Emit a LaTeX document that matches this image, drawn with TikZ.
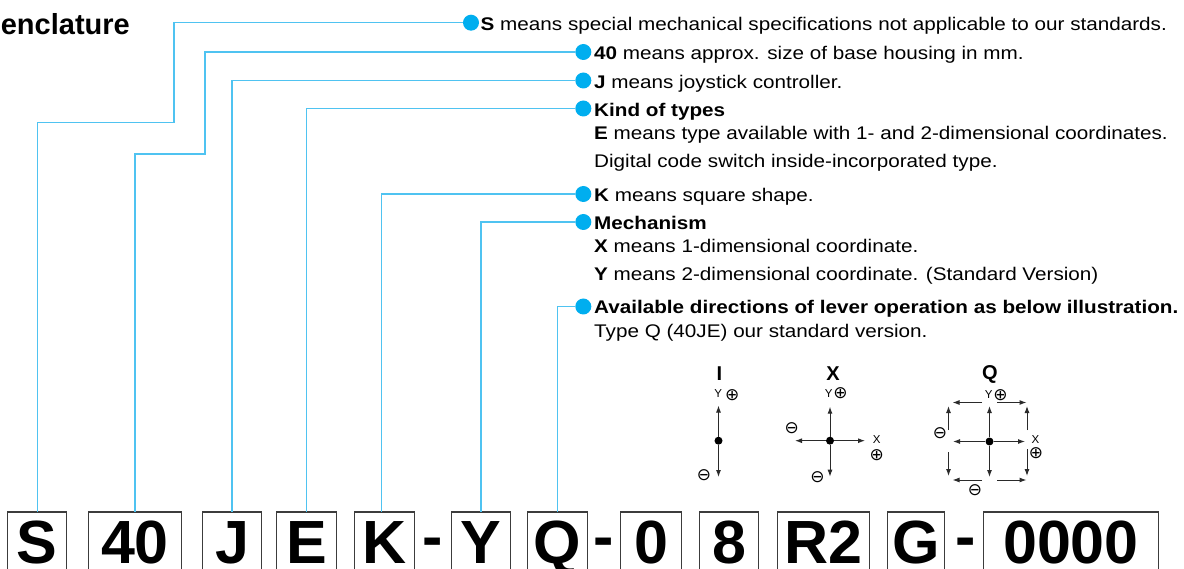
\documentclass[tikz,border=0pt]{standalone}
\usepackage{fontspec}
\setmainfont{Liberation Sans}
\newfontfamily\bodyfont[FakeStretch=1.13]{Liberation Sans}
\newfontfamily\symfont{DejaVu Sans}
\usetikzlibrary{arrows.meta}
\definecolor{lineblue}{HTML}{4FC3F1}
\definecolor{dotblue}{HTML}{00AEEF}
\definecolor{boxgray}{HTML}{3C3C3C}
\definecolor{arrgray}{HTML}{2A2A2A}
\begin{document}
\begin{tikzpicture}[x=1pt,y=-1pt,
  codebox/.style={inner sep=0pt, minimum height=56pt, anchor=north,
    font=\fontsize{61}{61}\selectfont\bfseries, text height=46pt, text depth=0pt},
  frame/.style={draw=boxgray, line width=1.3pt},
  hyph/.style={anchor=base, inner sep=0pt, font=\fontsize{61}{61}\selectfont\bfseries},
  bdot/.style={circle, fill=dotblue, inner sep=0pt, minimum size=16pt},
  conn/.style={draw=lineblue, line width=1.4pt},
  txt/.style={anchor=base west, inner sep=0pt, font=\bodyfont\fontsize{18.3}{20}\selectfont},
  sdot/.style={circle, fill=black, inner sep=0pt, minimum size=8pt},
  arr/.style={draw=arrgray, line width=1pt, -{Latex[length=7pt,width=5pt]}},
  lab/.style={inner sep=0pt, font=\fontsize{20}{20}\selectfont\bfseries},
  axl/.style={inner sep=0pt, font=\fontsize{11.5}{11.5}\selectfont},
  sym/.style={inner sep=0pt, font=\symfont\fontsize{17}{17}\selectfont}
]
\path[use as bounding box] (0,0) rectangle (1184,569);
\clip (0,0) rectangle (1184,569);
\fill[white] (0,0) rectangle (1184,569);

% title
\node[anchor=base east, inner sep=0pt, font=\fontsize{29}{29}\selectfont\bfseries] (title) at (130,35) {enclature};

% code boxes
\node[codebox, minimum width=58.5pt] (bS) at (37.25,512) {S};
\node[codebox, minimum width=92pt] (b40) at (135,512) {40};
\node[codebox, minimum width=58pt] (bJ) at (232,512) {J};
\node[codebox, minimum width=59pt] (bE) at (306.5,512) {E};
\node[codebox, minimum width=59pt] (bK) at (384.5,512) {K};
\node[hyph] (h1) at (432.5,557) {-};
\node[codebox, minimum width=58pt] (bY) at (481,512) {Y};
\node[codebox, minimum width=59pt] (bQ) at (557.5,512) {Q};
\node[hyph] (h2) at (604,557) {-};
\node[codebox, minimum width=60pt] (b0) at (651,512) {0};
\node[codebox, minimum width=58pt] (b8) at (729,512) {8};
\node[codebox, minimum width=91pt] (bR) at (823.5,512) {R2};
\node[codebox, minimum width=56pt] (bG) at (916,512) {G};
\node[hyph] (h3) at (966,557) {-};
\node[codebox, minimum width=174pt] (b00) at (1071,512) {0000};
\foreach \b in {bS,b40,bJ,bE,bK,bY,bQ,b0,b8,bR,bG,b00}
  \draw[frame] ([yshift=-8pt]\b.south west) |- (\b.north east) -- ([yshift=-8pt]\b.south east);

% dots
\node[bdot] (d1) at (471,22.7) {};
\node[bdot] (d2) at (583.3,52) {};
\node[bdot] (d3) at (583.3,80.5) {};
\node[bdot] (d4) at (583.3,108.5) {};
\node[bdot] (d5) at (583.3,194) {};
\node[bdot] (d6) at (583.3,222) {};
\node[bdot] (d7) at (583.3,306.5) {};

% texts
\node[txt] (t1) at (480.5,30.7) {\textbf{S} means special mechanical specifications not applicable to our standards.};
\node[txt] (t2) at (594,60) {\textbf{40} means approx. size of base housing in mm.};
\node[txt] (t3) at (594,88.5) {\textbf{J} means joystick controller.};
\node[txt] (t4) at (594,116.5) {\textbf{Kind of types}};
\node[txt] (t4a) at (594,139.5) {\textbf{E} means type available with 1- and 2-dimensional coordinates.};
\node[txt] (t4b) at (594,168) {Digital code switch inside-incorporated type.};
\node[txt] (t5) at (594,202) {\textbf{K} means square shape.};
\node[txt] (t6) at (594,230) {\textbf{Mechanism}};
\node[txt] (t6a) at (594,252.5) {\textbf{X} means 1-dimensional coordinate.};
\node[txt] (t6b) at (594,280.5) {\textbf{Y} means 2-dimensional coordinate. (Standard Version)};
\node[txt] (t7) at (594,314) {\textbf{Available directions of lever operation as below illustration.}};
\node[txt] (t7a) at (594,337.5) {Type Q (40JE) our standard version.};

% connectors
\coordinate (k1) at (174,122.7);
\coordinate (k2) at (205,154);
\draw[conn] (bS.north) |- (k1) |- (d1.west);
\draw[conn] (b40.north) |- (k2) |- (d2.west);
\draw[conn] (bJ.north) |- (d3.west);
\draw[conn] (bE.north) |- (d4.west);
\draw[conn] ([xshift=-3pt]bK.north) |- (d5.west);
\draw[conn] (bY.north) |- (d6.west);
\draw[conn] (bQ.north) |- (d7.west);

% ---- diagram I
\node[lab] (lI) at (719.3,374) {I};
\node[sdot] (cI) at (718.5,440.7) {};
\coordinate (Iu) at (718.5,405.5);
\coordinate (Id) at (718.5,477);
\draw[arr] (cI) -- (Iu);
\draw[arr] (cI) -- (Id);
\node[axl] (IY) at (718.3,393.3) {Y};
\node[sym] (Ip) at (732.3,395) {⊕};
\node[sym] (Im) at (704,475) {⊖};

% ---- diagram X
\node[lab] (lX) at (833,374) {X};
\node[sdot] (cX) at (830,440.7) {};
\coordinate (Xu) at (830,406.7);
\coordinate (Xd) at (830,476.7);
\coordinate (Xl) at (795,440.7);
\coordinate (Xr) at (865,440.7);
\draw[arr] (cX) -- (Xu);
\draw[arr] (cX) -- (Xd);
\draw[arr] (cX) -- (Xl);
\draw[arr] (cX) -- (Xr);
\node[axl] (XY) at (828.8,393.3) {Y};
\node[sym] (Xp1) at (840.5,393.3) {⊕};
\node[sym] (Xm1) at (791.7,428.3) {⊖};
\node[axl] (XX) at (876.7,440) {X};
\node[sym] (Xp2) at (876.7,455) {⊕};
\node[sym] (Xm2) at (817.5,477) {⊖};

% ---- diagram Q
\node[lab] (lQ) at (990,374) {Q};
\node[sdot] (cQ) at (989.5,441.5) {};
\coordinate (Qu) at (989.5,406);
\coordinate (Qd) at (989.5,477);
\coordinate (Ql) at (953,441.5);
\coordinate (Qr) at (1025,441.5);
\draw[arr] (cQ) -- (Qu);
\draw[arr] (cQ) -- (Qd);
\draw[arr] (cQ) -- (Ql);
\draw[arr] (cQ) -- (Qr);
% top edge
\coordinate (Qt1) at (982,402.5); \coordinate (Qt1e) at (952.5,402.5);
\coordinate (Qt2) at (997,402.5); \coordinate (Qt2e) at (1026.5,402.5);
\draw[arr] (Qt1) -- (Qt1e);
\draw[arr] (Qt2) -- (Qt2e);
% bottom edge
\coordinate (Qb1) at (982,480); \coordinate (Qb1e) at (952.5,480);
\coordinate (Qb2) at (997,480); \coordinate (Qb2e) at (1026.5,480);
\draw[arr] (Qb1) -- (Qb1e);
\draw[arr] (Qb2) -- (Qb2e);
% left edge
\coordinate (Ql1) at (948.5,430); \coordinate (Ql1e) at (948.5,406);
\coordinate (Ql2) at (948.5,452); \coordinate (Ql2e) at (948.5,476);
\draw[arr] (Ql1) -- (Ql1e);
\draw[arr] (Ql2) -- (Ql2e);
% right edge
\coordinate (Qr1) at (1027,430); \coordinate (Qr1e) at (1027,406);
\coordinate (Qr2) at (1027,449); \coordinate (Qr2e) at (1027,476);
\draw[arr] (Qr1) -- (Qr1e);
\draw[arr] (Qr2) -- (Qr2e);
\node[axl] (QY) at (988.7,395) {Y};
\node[sym] (Qp1) at (1000.5,395) {⊕};
\node[sym] (Qm1) at (940,433.3) {⊖};
\node[axl] (QX) at (1035.5,440) {X};
\node[sym] (Qp2) at (1036,453.3) {⊕};
\node[sym] (Qm2) at (975,490) {⊖};
\end{tikzpicture}
\end{document}
